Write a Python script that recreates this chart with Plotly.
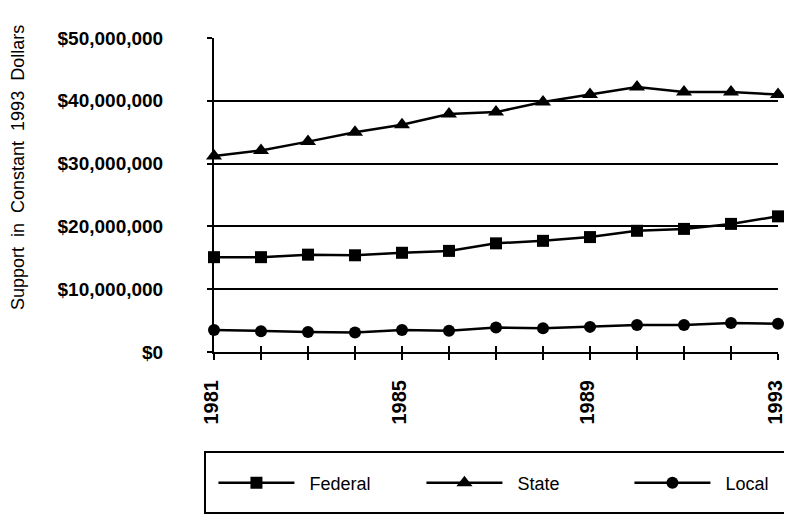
import plotly.graph_objects as go

years = list(range(1981, 1994))
federal = [15.1, 15.1, 15.5, 15.4, 15.8, 16.1, 17.3, 17.7, 18.3, 19.3, 19.6, 20.4, 21.6]
state = [31.2, 32.1, 33.5, 35.0, 36.2, 37.9, 38.2, 39.8, 41.0, 42.2, 41.4, 41.4, 41.0]
local = [3.5, 3.3, 3.2, 3.1, 3.5, 3.4, 3.9, 3.8, 4.0, 4.3, 4.3, 4.6, 4.5]
label_years = [1981, 1985, 1989, 1993]
y_ticks = [0, 10, 20, 30, 40, 50]
y_labels = ['$0', '$10,000,000', '$20,000,000', '$30,000,000', '$40,000,000', '$50,000,000']

font = 'Arial, Liberation Sans, sans-serif'
nb = '\u00a0'

# plot area in page pixels (page body adds an 8px offset to the figure)
PL, PR, PT, PB = 214, 778, 38, 352
W, H = 784, 506


def px(x):
    return (x - PL) / (PR - PL)


def py(y):
    return (PB - y) / (PB - PT)


fig = go.Figure()
for name, vals, sym, sz in [('Federal', federal, 'square', 12),
                            ('State', state, 'triangle-up', 14),
                            ('Local', local, 'circle', 12)]:
    fig.add_trace(go.Scatter(x=years, y=vals, name=nb * 2 + name, mode='lines+markers',
                             line=dict(color='black', width=2.5),
                             marker=dict(symbol=sym, size=sz, color='black'),
                             cliponaxis=False))

# invisible trace so the overlay axis with inside ticks gets drawn
fig.add_trace(go.Scatter(x=[1981], y=[0], xaxis='x2', showlegend=False,
                         mode='markers', marker=dict(opacity=0), hoverinfo='skip'))

ticktext = [str(y) if y in label_years else '' for y in years]

fig.update_layout(
    width=W, height=H,
    margin=dict(l=PL - 8, r=W - (PR - 8), t=PT - 8, b=H - (PB - 8), autoexpand=False),
    plot_bgcolor='white', paper_bgcolor='white',
    font=dict(family=font, color='black'),
    xaxis=dict(range=[1981, 1993], tickvals=years, ticktext=ticktext, tickangle=-90,
               ticks='outside', ticklen=6, tickwidth=2, tickcolor='black',
               showline=True, linecolor='black', linewidth=2, showgrid=False, zeroline=False,
               tickfont=dict(size=20, family=font, weight='bold'), ticklabelstandoff=12,
               ticklabelshift=-3, ticklabeloverflow='allow', automargin=False),
    xaxis2=dict(range=[1981, 1993], tickvals=years, overlaying='x', side='bottom',
                ticks='inside', ticklen=6, tickwidth=2, tickcolor='black',
                showticklabels=False, showgrid=False, zeroline=False, showline=False),
    yaxis=dict(range=[0, 50], tickvals=y_ticks, ticktext=y_labels,
               ticks='outside', ticklen=5, tickwidth=2, tickcolor='black',
               showline=True, linecolor='black', linewidth=2,
               showgrid=True, gridcolor='black', gridwidth=2, zeroline=False,
               tickfont=dict(size=19, family=font, weight='bold'), ticklabelstandoff=40,
               automargin=False),
    showlegend=True,
    legend=dict(orientation='h', x=-0.001, xanchor='left', y=py(483), yanchor='middle',
                entrywidth=117, entrywidthmode='pixels', itemwidth=76,
                font=dict(size=18, family=font), bgcolor='rgba(0,0,0,0)'),
    shapes=[dict(type='rect', xref='paper', yref='paper',
                 x0=px(205), x1=px(790), y0=py(513), y1=py(452),
                 line=dict(color='black', width=2))],
    annotations=[dict(text='Support  in  Constant  1993  Dollars', textangle=-90,
                      xref='paper', yref='paper', x=px(18), y=py(168),
                      xanchor='center', yanchor='middle', showarrow=False,
                      font=dict(size=18, family=font))],
)

fig.write_html('out.html')
